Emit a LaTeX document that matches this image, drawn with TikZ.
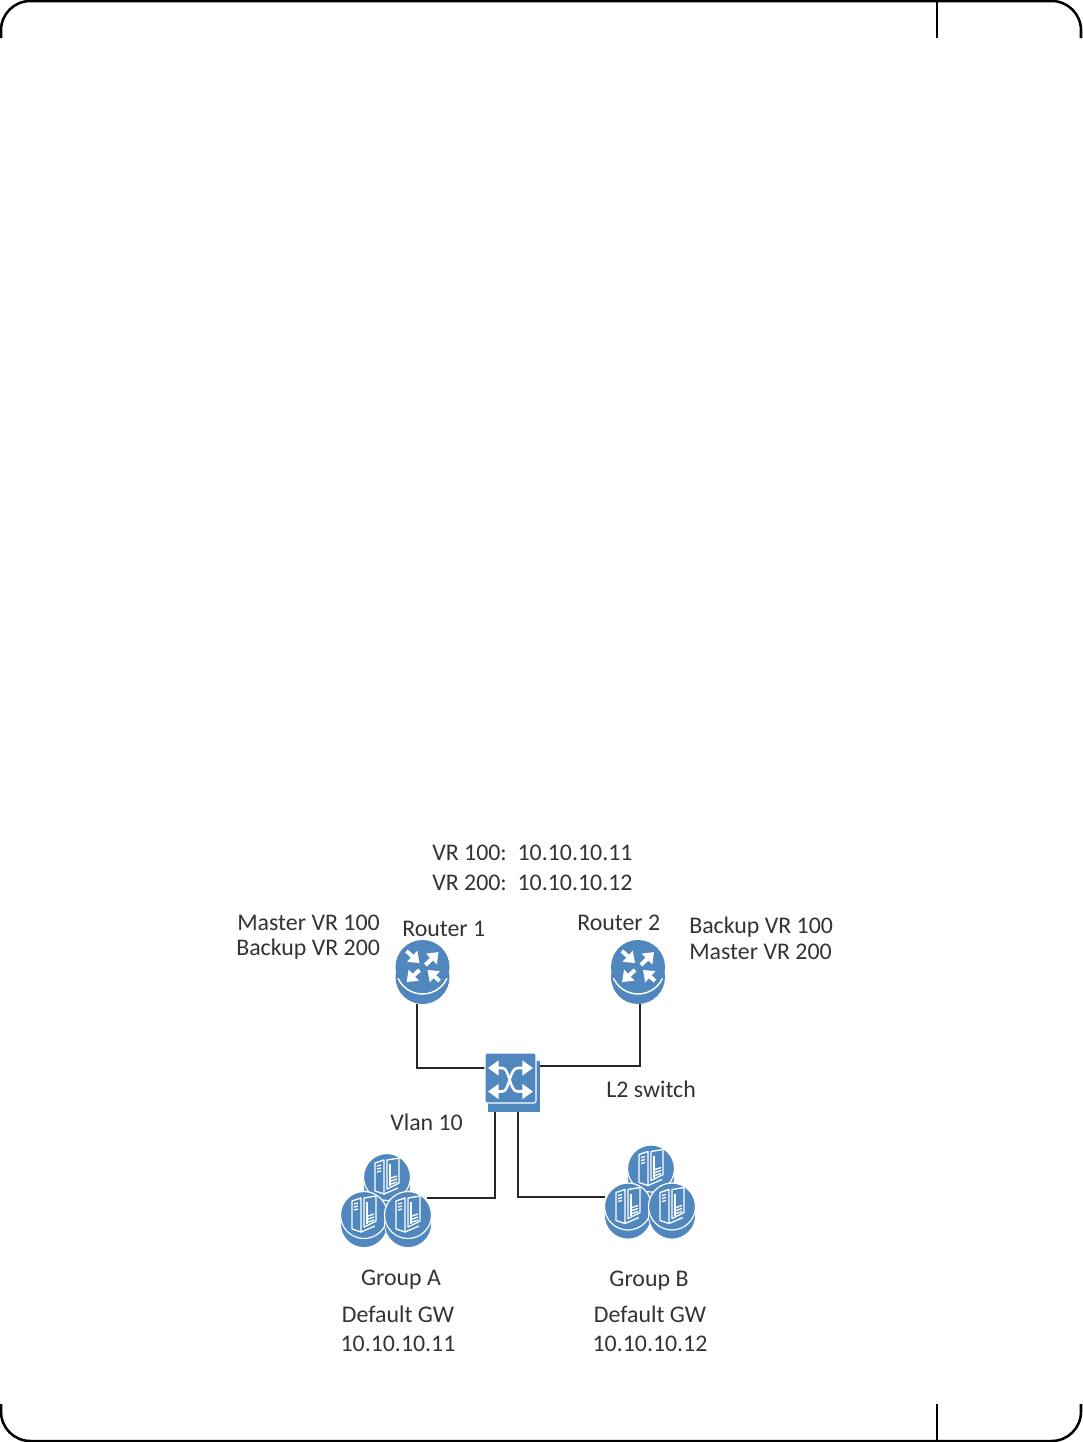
\documentclass[tikz,border=0pt]{standalone}
\usepackage{fontspec}
\setmainfont{Carlito}
\usetikzlibrary{arrows.meta}
\definecolor{iconblue}{HTML}{4F87BE}
\tikzset{
  lbl/.style={inner sep=0pt,text=black!80,font=\fontsize{17.9}{20}\selectfont},
  link/.style={draw=black!85,line width=1.5pt},
  edge/.style={draw=black,line width=1.9pt},
  box/.style={inner sep=0pt,minimum width=#1},
  rarrow/.style={draw=white,line width=3pt,-{Triangle[length=7.5pt,width=11pt]}},
  sarrow/.style={draw=white,line width=1.9pt,{Triangle[length=8pt,width=11pt]}-{Triangle[length=8pt,width=11pt]}},
  rack/.style={draw=white,line width=1pt,line join=round}
}
\newcommand{\routerglyph}[1]{
\begin{scope}[shift={(#1.center)}]
\fill[iconblue] (0,5) circle[radius=27];
\fill[iconblue] (0,-5) circle[radius=27];
\draw[white,line width=1.1pt] (0,-5) ++(25:27) arc[start angle=25,end angle=155,radius=27];
\draw[rarrow] (-16,-21) -- (-3,-9);
\draw[rarrow] (3,-7) -- (16,-20);
\draw[rarrow] (-3,-2) -- (-16,10);
\draw[rarrow] (17,9) -- (5,-2);
\end{scope}
}
\newcommand{\serverdisc}[2]{
\begin{scope}[shift={(#1,#2)}]
\fill[iconblue,draw=white,line width=.6pt] (0,9) circle[radius=23.5];
\fill[iconblue,draw=white,line width=.9pt] (0,0) circle[radius=23.5];
\draw[rack] (-12,-14) -- (-3,-17) -- (-3,17) -- (-12,14) -- cycle;
\draw[rack] (0,-17) -- (12,-19) -- (12,6) -- (0,12) -- cycle;
\draw[rack] (3,-13) -- (3,9);
\draw[rack] (-3,17) -- (11,11);
\foreach \yy in {-11,-8,-5} \draw[rack] (-10,\yy) -- (-6,\yy-1);
\foreach \yy in {1,4,7} \draw[rack] (4,\yy) -- (10,\yy-2);
\end{scope}
}
\newcommand{\groupglyph}[1]{
\begin{scope}[shift={(#1.center)}]
\serverdisc{.5}{-23.5}
\serverdisc{-22.5}{14.5}
\serverdisc{21.5}{14.5}
\end{scope}
}
\begin{document}
\begin{tikzpicture}[x=.75pt,y=-.75pt]
\useasboundingbox (0,0) rectangle (1082,1442);
% page frame
\draw[edge,rounded corners=22pt] (1,38) -- (1,1) -- (1081,1) -- (1081,38);
\draw[edge,rounded corners=22pt] (1,1404) -- (1,1441) -- (1081,1441) -- (1081,1404);
\draw[edge] (937,1) -- (937,38);
\draw[edge] (937,1404) -- (937,1441);
% devices
\node[box=41.25pt,minimum height=48pt] (router1) at (422.5,972) {};
\node[box=41.25pt,minimum height=48pt] (router2) at (638,972) {};
\node[box=41.25pt,minimum height=44.25pt] (switch) at (512.5,1082.5) {};
\node[box=68.25pt,minimum height=69.75pt] (groupA) at (386.5,1200.5) {};
\node[box=68.25pt,minimum height=69pt] (groupB) at (650.5,1192) {};
% links
\draw[link] ([xshift=-4.1pt]router1.south) |- ([yshift=10.9pt]switch.west);
\draw[link] ([xshift=1.5pt]router2.south) |- ([yshift=12.4pt]switch.east);
\draw[link] ([xshift=-13.5pt]switch.south) |- ([xshift=-3.75pt,yshift=1.9pt]groupA.east);
\draw[link] ([xshift=4.1pt]switch.south) |- ([yshift=-3.75pt]groupB.west);
% icons
\routerglyph{router1}
\routerglyph{router2}
\begin{scope}[shift={(switch.center)}]
\fill[iconblue] (-25,-22) rectangle (27.5,29.5);
\fill[iconblue,draw=white,line width=.8pt,rounded corners=1.5pt] (-27.5,-29.5) rectangle (23.5,20.5);
\draw[sarrow] (-24.5,-14.5) -- (-10,-14.5) .. controls (-3,-14.5) and (-3,9) .. (5,9) -- (20.5,9);
\draw[sarrow] (-24.5,9) -- (-10,9) .. controls (-3,9) and (-3,-14.5) .. (5,-14.5) -- (20.5,-14.5);
\end{scope}
\groupglyph{groupA}
\groupglyph{groupB}
% labels
\node[lbl,anchor=base west] (vr1) at (432,860) {VR 100:\ \ 10.10.10.11};
\node[lbl,anchor=base west] (vr2) at (432,890) {VR 200:\ \ 10.10.10.12};
\node[lbl,anchor=base west] (m1) at (237,930) {Master VR 100};
\node[lbl,anchor=base west] (b1) at (236,955) {Backup VR 200};
\node[lbl,anchor=base west] (r1) at (402,936) {Router 1};
\node[lbl,anchor=base west] (r2) at (577,930) {Router 2};
\node[lbl,anchor=base west] (b2) at (689,933) {Backup VR 100};
\node[lbl,anchor=base west] (m2) at (689,959) {Master VR 200};
\node[lbl,anchor=base west] (l2) at (606,1097) {L2 switch};
\node[lbl,anchor=base west] (vlan) at (390,1130) {Vlan 10};
\node[lbl,anchor=base] (ga) at (401,1285) {Group A};
\node[lbl,anchor=base] (gwa) at (398,1322) {Default GW};
\node[lbl,anchor=base] (ipa) at (398,1351) {10.10.10.11};
\node[lbl,anchor=base] (gb) at (649,1286) {Group B};
\node[lbl,anchor=base] (gwb) at (650,1322) {Default GW};
\node[lbl,anchor=base] (ipb) at (650,1351) {10.10.10.12};
\end{tikzpicture}
\end{document}
